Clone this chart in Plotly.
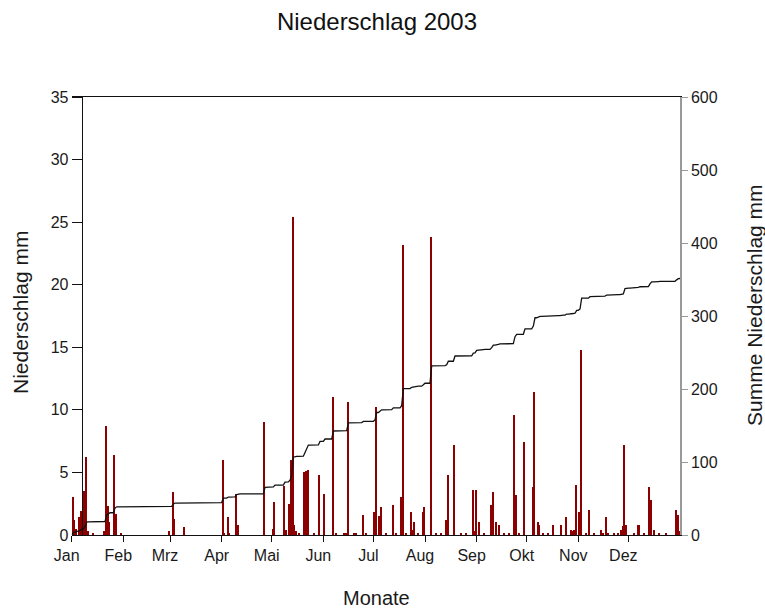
import numpy as np
import plotly.graph_objects as go

# Month labels and the day of year (0-based) on which each month starts
monate = ["Jan", "Feb", "Mrz", "Apr", "Mai", "Jun", "Jul", "Aug", "Sep", "Okt", "Nov", "Dez"]
monatsbeginn = [0, 31, 59, 90, 120, 151, 181, 212, 243, 273, 304, 334]

# Days with precipitation (day of year, 0 = 1 Jan) and daily amount in mm
regen_tag = [
    0, 1, 2, 4, 5, 7, 8, 9, 12, 19, 20, 21, 22, 25, 26, 29,
    58, 60, 61, 67,
    90, 91, 93, 94, 98, 99, 115,
    120, 121, 127, 128, 130, 131, 132, 133, 134, 136, 139, 140, 141, 145, 148,
    151, 156, 158, 163, 164, 165, 169, 170, 174, 176,
    181, 182, 184, 185, 188, 192, 194, 197, 198, 200, 203, 204, 205, 207, 210, 211,
    215, 218, 221, 224, 225, 229, 233, 236,
    240, 241, 242, 244, 247, 251, 252, 254, 256, 259, 262, 265, 266, 268, 271,
    276, 277, 279, 280, 282, 285, 288, 293, 296, 299, 300, 301, 302,
    304, 305, 308, 310, 313, 317, 318, 320, 321, 325, 327, 329, 330, 331, 332,
    337, 339, 340, 343, 346, 347, 349, 352, 356, 362, 363, 364,
]
regen_mm = [
    3.0, 1.2, 0.5, 1.4, 1.9, 3.5, 6.2, 0.3, 0.2, 0.3, 8.7, 2.3, 1.0, 6.4, 1.7, 0.2,
    0.3, 3.4, 1.3, 0.6,
    6.0, 0.2, 1.4, 0.2, 3.3, 0.8, 9.0,
    0.5, 2.6, 3.9, 0.4, 2.5, 6.0, 25.4, 0.8, 0.3, 0.2, 5.0, 5.1, 5.2, 0.2, 4.8,
    3.3, 11.0, 0.2, 0.2, 0.2, 10.6, 0.2, 0.1, 1.6, 0.2,
    1.8, 10.2, 1.5, 2.2, 0.2, 2.4, 0.1, 3.0, 23.2, 0.2, 1.8, 0.4, 1.0, 0.1, 1.8, 2.2,
    23.8, 0.2, 0.1, 1.2, 4.8, 7.2, 0.2, 0.1,
    3.6, 0.3, 3.6, 1.0, 0.2, 2.4, 3.4, 1.0, 0.8, 0.1, 0.2, 9.6, 3.2, 0.1, 7.4,
    3.8, 11.4, 1.0, 0.8, 0.2, 0.1, 0.8, 0.8, 1.4, 0.4, 0.3, 0.4, 4.0,
    1.8, 14.8, 0.1, 2.0, 0.2, 0.4, 0.2, 1.4, 0.2, 0.2, 0.1, 0.4, 0.7, 7.2, 0.8,
    0.2, 0.8, 0.8, 0.1, 3.8, 2.8, 0.4, 0.1, 0.2, 2.0, 1.6, 0.3,
]

tage = np.arange(365)
niederschlag = np.zeros(365)
niederschlag[regen_tag] = regen_mm
# running total at the end of each day, starting from 0 on 1 Jan
summe = np.concatenate([[0.0], np.cumsum(niederschlag)])

W, H = 765, 612
schrift = "Liberation Sans, Arial, sans-serif"

fig = go.Figure()
fig.add_trace(go.Bar(
    x=tage + 0.5, y=niederschlag, width=0.95,
    marker=dict(color="#8B0000", line=dict(width=0)),
    yaxis="y", showlegend=False,
))
fig.add_trace(go.Scatter(
    x=np.arange(366), y=summe, mode="lines",
    line=dict(color="#111111", width=1.3),
    yaxis="y2", showlegend=False,
))

x0, x1 = 71.7 / W, 680 / W
y0, y1 = (H - 535) / H, (H - 97) / H

fig.update_layout(
    width=W, height=H,
    margin=dict(l=0, r=0, t=0, b=0),
    paper_bgcolor="white", plot_bgcolor="white",
    font=dict(family=schrift, color="#1a1a1a", size=16),
    bargap=0,
    title=dict(text="Niederschlag 2003", x=377 / W, xanchor="center",
               y=1 - 22 / H, yanchor="middle",
               font=dict(family=schrift, size=24, color="#111111")),
    xaxis=dict(
        domain=[x0, x1], range=[0, 365],
        tickmode="array", tickvals=monatsbeginn, ticktext=monate,
        ticks="outside", ticklen=6, tickcolor="#111111",
        ticklabelshift=-5,
        showline=True, linecolor="#111111", linewidth=1, mirror=True,
        showgrid=False, zeroline=False,
        tickfont=dict(size=16), automargin=False,
    ),
    yaxis=dict(
        domain=[y0, y1], range=[0, 35], dtick=5,
        anchor="free", position=81.7 / W,
        ticks="outside", ticklen=10, tickcolor="#111111",
        showline=True, linecolor="#111111", linewidth=1,
        showgrid=False, zeroline=False,
        tickfont=dict(size=16), automargin=False,
    ),
    yaxis2=dict(
        range=[0, 600], dtick=100, overlaying="y", side="right", anchor="x",
        ticks="outside", ticklen=6, tickcolor="#999999",
        showline=True, linecolor="#999999", linewidth=1.5,
        showgrid=False, zeroline=False,
        tickfont=dict(size=16), automargin=False,
    ),
    annotations=[
        dict(text="Monate", x=376 / W, y=1 - 598 / H, xref="paper", yref="paper",
             showarrow=False, xanchor="center", yanchor="middle",
             font=dict(size=20)),
        dict(text="Niederschlag mm", x=20 / W, y=1 - 313 / H, xref="paper", yref="paper",
             showarrow=False, textangle=-90, xanchor="center", yanchor="middle",
             font=dict(size=21)),
        dict(text="Summe Niederschlag mm", x=754 / W, y=1 - 305 / H, xref="paper", yref="paper",
             showarrow=False, textangle=-90, xanchor="center", yanchor="middle",
             font=dict(size=21)),
    ],
)

fig.write_html("out.html")
